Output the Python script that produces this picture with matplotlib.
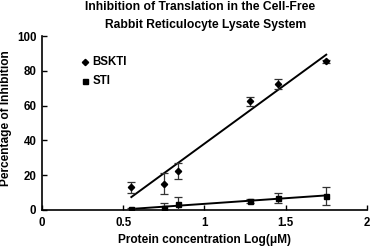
import numpy as np
import matplotlib
matplotlib.use("Agg")
import matplotlib.pyplot as plt

plt.rcParams['font.family'] = ['Liberation Sans', 'DejaVu Sans']
plt.rcParams['font.weight'] = 'bold'

# protein concentration log(uM)
bsk_x = [0.55, 0.75, 0.84, 1.28, 1.45, 1.75]
bsk_y = [13.0, 15.0, 22.5, 62.5, 72.5, 85.5]
bsk_err = [3.0, 6.0, 4.5, 2.7, 2.7, 1.0]

sti_x = [0.55, 0.75, 0.84, 1.28, 1.45, 1.75]
sti_y = [0.5, 1.2, 3.2, 5.0, 7.0, 8.0]
sti_err = [0.5, 2.5, 4.0, 1.0, 3.0, 5.0]

xticks = [0, 0.5, 1, 1.5, 2]
xticklabels = ['0', '0.5', '1', '1.5', '2']
yticks = [0, 20, 40, 60, 80, 100]

fig = plt.figure(figsize=(3.7, 2.49), dpi=100)
ax = fig.add_axes([0.1135, 0.157, 0.878, 0.698])

# error bars + points
ax.errorbar(bsk_x, bsk_y, yerr=bsk_err, fmt='D', color='black', ecolor='#333333',
            markersize=3.2, elinewidth=0.9, capsize=2.6, capthick=0.9, zorder=3)
ax.errorbar(sti_x, sti_y, yerr=sti_err, fmt='s', color='black', ecolor='#333333',
            markersize=3.6, elinewidth=0.9, capsize=2.6, capthick=0.9, zorder=3)

# linear fits
for xs, ys in [(bsk_x, bsk_y), (sti_x, sti_y)]:
    m, b = np.polyfit(xs, ys, 1)
    xx = np.array([min(xs), max(xs)])
    ax.plot(xx, m * xx + b, color='black', linewidth=1.4, zorder=2)

ax.set_xlim(0, 2)
ax.set_ylim(0, 100)
ax.set_xticks(xticks)
ax.set_xticklabels(xticklabels)
ax.set_yticks(yticks)
ax.spines['top'].set_visible(False)
ax.spines['right'].set_visible(False)
for s in ['left', 'bottom']:
    ax.spines[s].set_linewidth(1.2)
ax.tick_params(direction='in', length=3.5, width=1, labelsize=8.3, pad=4)
ax.tick_params(axis='x', pad=5)

ax.set_xlabel('Protein concentration Log(\u03bcM)', fontsize=8.6, fontweight='bold', labelpad=4)
ax.set_ylabel('Percentage of Inhibition', fontsize=8.6, fontweight='bold')
ax.yaxis.set_label_coords(-0.091, 0.53)

# legend
ax.plot([0.265], [85], 'D', color='black', markersize=3.2, clip_on=False)
ax.text(0.31, 85, 'BSKTI', fontsize=8.3, fontweight='bold', va='center', ha='left')
ax.plot([0.265], [74], 's', color='black', markersize=3.6, clip_on=False)
ax.text(0.31, 74, 'STI', fontsize=8.3, fontweight='bold', va='center', ha='left')

fig.text(0.54, 0.972, 'Inhibition of Translation in the Cell-Free', fontsize=8.7,
         fontweight='bold', ha='center', va='center')
fig.text(0.555, 0.90, 'Rabbit Reticulocyte Lysate System', fontsize=8.7,
         fontweight='bold', ha='center', va='center')

fig.savefig('out.png', dpi=100)
